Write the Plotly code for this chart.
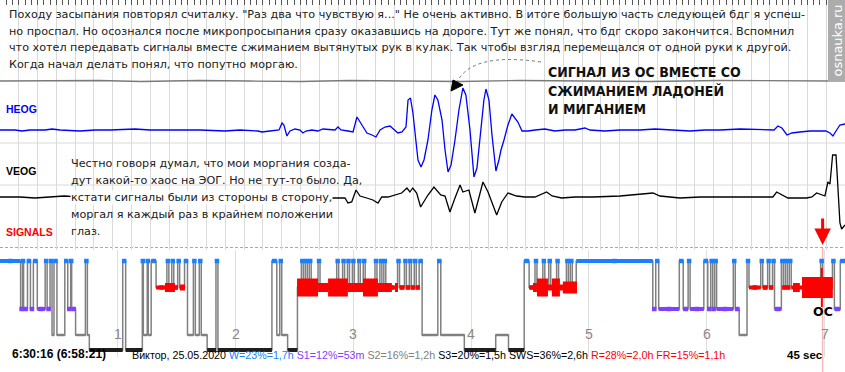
import plotly.graph_objects as go

W, H = 845, 372

# ---------------- 45-second EOG window (seconds / relative amplitude) ----------------
heog_t = [0.00, 0.80, 1.17, 1.60, 2.40, 2.77, 3.20, 4.26, 5.06, 5.86, 7.19, 7.99, 9.32, 10.65,
          11.98, 12.78, 13.74, 13.95, 14.38, 14.86, 15.02, 15.12, 15.28, 15.44, 15.71, 15.98,
          16.13, 16.29, 16.61, 16.93, 17.20, 17.57, 17.84, 18.00, 18.16, 18.53, 18.80, 19.01,
          19.33, 19.54, 19.81, 20.02, 20.24, 20.50, 20.77, 20.98, 21.19, 21.41, 21.62, 21.73,
          21.86, 21.99, 22.26, 22.42, 22.58, 22.79, 23.00, 23.16, 23.32, 23.54, 23.70, 23.86,
          24.02, 24.23, 24.44, 24.65, 24.81, 25.03, 25.24, 25.40, 25.61, 25.77, 25.88, 26.04,
          26.20, 26.41, 26.57, 26.68, 26.84, 27.05, 27.26, 27.42, 27.58, 27.80, 28.12, 28.49,
          29.02, 29.55, 30.09, 30.62, 31.15, 31.42, 32.22, 33.02, 34.08, 34.88, 35.68, 36.74,
          37.54, 38.34, 39.41, 40.47, 41.22, 41.43, 41.64, 41.91, 42.17, 42.60, 43.13, 43.67,
          43.98, 44.20, 44.36, 44.52, 44.73, 45.00]
heog_uv = [0, 0, -1, 0, 0, 1, 0, -1, 0, 0, 1, 0, 0, 0,
           -1, 0, -1, -2, -1, 0, 7, 5, -6, -1, 1, 0,
           -3, -1, 0, -1, 1, 0, 0, 3, 0, -1, -2, 13,
           3, -3, -5, -7, 0, 3, 4, 0, -3, -2, 3, 30,
           32, 17, -30, -37, -30, -10, 20, 35, 30, 10, -20, -42,
           -35, -10, 20, 42, 35, 0, -47, -38, 0, 30, 41, 30,
           -5, -41, -30, -20, -10, 5, 16, 12, 8, -1, -1, 0,
           1, -1, 0, 0, 2, 0, -1, 0, 0, 1, 0, -1,
           0, 0, 1, 0, 0, 4, 2, -5, -3, -2, -1, -1,
           -1, -3, -6, -1, 5, 6]

veog_t = [0.00, 1.07, 1.86, 2.66, 3.41, 4.26, 5.33, 6.92, 8.52, 10.12, 11.72, 13.31, 14.91,
          15.98, 17.04, 18.00, 18.37, 18.53, 18.73, 18.96, 19.17, 19.53, 19.86, 20.13, 20.33,
          20.66, 21.12, 21.39, 21.67, 21.83, 21.98, 22.19, 22.40, 22.63, 22.79, 23.11, 23.47,
          23.70, 23.96, 24.23, 24.50, 24.65, 24.97, 25.29, 25.51, 25.72, 25.99, 26.45, 26.72,
          27.05, 27.51, 27.96, 28.49, 29.11, 29.40, 29.91, 30.62, 31.58, 33.02, 34.77, 35.15,
          35.84, 36.21, 37.28, 38.34, 39.94, 41.16, 41.36, 41.64, 41.96, 42.96, 43.24, 43.49,
          43.93, 44.09, 44.20, 44.34, 44.52, 44.60, 44.73, 44.82, 45.00]
veog_uv = [0, 0, -1, 0, 1, 0, 0, -1, 0, 0, 0, -1, 0,
           0, -1, -1, -1, -6, -5, 7, 1, -1, -3, -6, 0,
           0, 3, 4, 9, 5, 9, 4, -10, -2, 2, 10, 2,
           1, -15, -1, 12, 5, 7, -16, 1, 15, 5, -18, -5,
           4, 1, 0, 0, 5, 1, -1, 0, 0, 1, 4, 1,
           0, -1, 0, 0, 0, 0, 5, 2, -1, -1, 0, 4,
           1, 15, 13, 42, 42, 17, -26, -32, -28]

aux_t = [0.0, 3.2, 5.3, 7.5, 10.6, 13.3, 16.0, 18.6, 21.3, 24.5, 27.7, 30.9, 34.6, 38.3, 42.1, 44.1]
aux_uv = [0, 0, 0.5, -0.5, 0.5, 0, -0.5, 0.5, 0, -0.5, 0.5, 0, -0.5, 0.5, 0, 0]

# ---------------- whole-night hypnogram (minutes from start) ----------------
hyp_start_min = [0, 10.5, 11.5, 12.0, 14.0, 15.5, 17.0, 19.0, 23.0, 24.0, 25.5, 26.5, 27.5, 29.0,
                 33.0, 34.5, 36.0, 36.5, 38.5, 43.5, 44.5, 45.5, 62.5, 64.0, 72.5, 73.0, 75.0,
                 75.5, 77.0, 79.5, 85.0, 86.0, 87.5, 88.5, 90.5, 91.5, 94.0, 95.5, 98.5, 99.5,
                 101.5, 102.5, 105.5, 110.0, 111.0, 138.5, 141.0, 142.5, 143.5, 146.5, 151.5,
                 153.5, 154.5, 155.5, 156.5, 157.5, 158.5, 162.0, 163.0, 171.5, 172.5, 174.5,
                 175.5, 177.0, 178.0, 179.5, 180.5, 182.5, 183.5, 185.0, 186.0, 191.0, 192.0,
                 193.5, 194.5, 195.5, 196.5, 202.5, 203.5, 206.0, 207.0, 208.5, 209.5, 211.0,
                 212.0, 213.5, 215.0, 223.0, 224.5, 236.5, 252.5, 259.0, 267.0, 269.5, 272.5,
                 273.5, 276.5, 277.5, 279.5, 280.5, 283.5, 284.5, 288.5, 289.5, 290.5, 291.5,
                 293.5, 332.5, 334.0, 335.5, 346.0, 348.0, 350.5, 351.5, 358.5, 360.5, 362.0,
                 363.0, 364.0, 365.0, 373.5, 374.5, 376.5, 380.5, 381.5, 387.5, 388.5, 391.0,
                 392.0, 393.5, 394.5, 398.0, 399.0, 400.0, 401.0, 402.0, 403.0, 418.0, 419.0,
                 424.0, 425.0, 428.0]
hyp_stage = ["W", "S1", "W", "S1", "W", "S1", "W", "S1", "W", "S1", "W", "S2", "W", "S2",
             "W", "S1", "W", "S1", "S2", "W", "S2", "S3", "W", "S3", "W", "S2", "W",
             "S2", "W", "R", "W", "R", "W", "R", "W", "R", "W", "S2", "W", "S2",
             "W", "S2", "S3", "W", "S3", "W", "S2", "W", "S2", "S3", "R",
             "W", "R", "W", "R", "W", "R", "W", "R", "W", "R", "W",
             "R", "W", "R", "W", "R", "W", "R", "W", "R", "W", "R",
             "W", "R", "W", "R", "W", "R", "W", "R", "W", "R", "W",
             "R", "W", "S2", "W", "S2", "S3", "S2", "S3", "W", "R", "W",
             "R", "W", "R", "W", "R", "W", "R", "W", "R", "W", "R",
             "W", "S1", "W", "S1", "W", "S1", "W", "S1", "W", "S1", "W",
             "S1", "W", "S1", "W", "S1", "S2", "W", "R", "W", "R", "W",
             "R", "W", "S1", "W", "R", "W", "R", "W", "R", "W", "R",
             "W", "S1", "W"]
hyp_end_min = 430.4

# rapid-eye-movement density blocks inside REM
rem_start_min = [84.0, 91.7, 151.3, 162.0, 167.1, 177.2, 184.9, 192.5, 201.2,
                 271.5, 273.5, 279.1, 281.1, 285.2, 286.7, 403.9, 408.5, 418.1]
rem_end_min = [89.1, 94.2, 162.0, 167.1, 177.2, 184.9, 192.5, 199.6, 202.7,
               273.5, 279.1, 281.1, 285.2, 286.7, 293.9, 407.4, 424.2, 419.1]
rem_density = [2, 1, 4, 2, 4, 2, 4, 2, 2,
               2, 4, 1, 4, 1, 3, 2, 5, 6]

cursor_min = 419.0
hour_ticks_min = [60, 120, 180, 240, 300, 360, 420]
hour_labels = ["1", "2", "3", "4", "5", "6", "7"]

top_text = [
    "Походу засыпания повторял считалку. \"Раз два что чувствую я...\" Не очень активно. В итоге большую часть следующей бдг я успеш-",
    "но проспал. Но осознался после микропросыпания сразу оказавшись на дороге. Тут же понял, что бдг скоро закончится. Вспомнил",
    "что хотел передавать сигналы вместе сжиманием вытянутых рук в кулак. Так чтобы взгляд перемещался от одной руки к другой.",
    "Когда начал делать понял, что попутно моргаю.",
]
mid_text = [
    "Честно говоря думал, что мои моргания созда-",
    "дут какой-то хаос на ЭОГ. Но не тут-то было. Да,",
    "кстати сигналы были из стороны в сторону,",
    "моргал я каждый раз в крайнем положении",
    "глаз.",
]
callout_text = ["СИГНАЛ ИЗ ОС ВМЕСТЕ СО", "СЖИМАНИЕМ ЛАДОНЕЙ", "И МИГАНИЕМ"]
stat_labels = ["W=23%=1,7h", "S1=12%=53m", "S2=16%=1,2h", "S3=20%=1,5h", "SWS=36%=2,6h",
               "R=28%=2,0h", "FR=15%=1,1h"]

# ---------------- styles ----------------
stage_y = {"W": 261, "R": 287.5, "S1": 309, "S2": 335, "S3": 350}
stage_color = {"W": "#1a80ff", "R": "#ff0000", "S1": "#8040ff", "S2": "#808080", "S3": "#1e1e1e"}
stage_width = {"W": 4, "R": 4, "S1": 4, "S2": 2.5, "S3": 4}
stat_colors = ["#1a80ff", "#8040ff", "#808080", "#000000", "#000000", "#ff0000", "#ff0000"]
density_px = {1: 6, 2: 9, 3: 12, 4: 18, 5: 21, 6: 39}


def px(x):
    return x / W


def py(y):
    return 1 - y / H


fig = go.Figure()

# EOG channels
fig.add_trace(go.Scatter(x=aux_t, y=aux_uv, mode="lines", line=dict(color="#7a7a7a", width=1.3),
                         xaxis="x", yaxis="y4", hoverinfo="skip"))
fig.add_trace(go.Scatter(x=heog_t, y=heog_uv, mode="lines", line=dict(color="#0000ff", width=1.3),
                         xaxis="x", yaxis="y", hoverinfo="skip"))
fig.add_trace(go.Scatter(x=veog_t, y=veog_uv, mode="lines", line=dict(color="#000000", width=1.3),
                         xaxis="x", yaxis="y3", hoverinfo="skip"))

# hypnogram step line
ends = hyp_start_min[1:] + [hyp_end_min]
sx = list(hyp_start_min) + [hyp_end_min]
sy = [stage_y[s] for s in hyp_stage] + [stage_y[hyp_stage[-1]]]
fig.add_trace(go.Scatter(x=sx, y=sy, mode="lines", line=dict(color="#808080", width=1.5, shape="hv"),
                         xaxis="x2", yaxis="y2", hoverinfo="skip"))

# stage bars
for st in ["S2", "S3", "S1", "R", "W"]:
    xs, ys, mx, my = [], [], [], []
    for s, e, g in zip(hyp_start_min, ends, hyp_stage):
        if g == st:
            xs += [s, e, None]
            ys += [stage_y[st], stage_y[st], None]
            mx.append((s + e) / 2)
            my.append(stage_y[st])
    fig.add_trace(go.Scatter(x=xs, y=ys, mode="lines",
                             line=dict(color=stage_color[st], width=stage_width[st]),
                             xaxis="x2", yaxis="y2", hoverinfo="skip"))
    if st in ("W", "S1", "R"):
        fig.add_trace(go.Scatter(x=mx, y=my, mode="markers",
                                 marker=dict(symbol="square", size=4.5, color=stage_color[st], line=dict(width=0)),
                                 xaxis="x2", yaxis="y2", hoverinfo="skip"))

# REM density blocks
for lvl in sorted(set(rem_density)):
    xs, ys = [], []
    for s, e, d in zip(rem_start_min, rem_end_min, rem_density):
        if d == lvl:
            xs += [s, e, None]
            ys += [stage_y["R"], stage_y["R"], None]
    fig.add_trace(go.Scatter(x=xs, y=ys, mode="lines", line=dict(color="#ff0000", width=density_px[lvl]),
                             xaxis="x2", yaxis="y2", hoverinfo="skip"))

shapes = []
# horizontal guide lines in signal area
for yy in (143, 185):
    shapes.append(dict(type="line", xref="paper", yref="paper", x0=0, x1=1, y0=py(yy), y1=py(yy),
                       line=dict(color="#dadada", width=1), layer="below"))
shapes.append(dict(type="line", xref="paper", yref="paper", x0=0, x1=1, y0=py(247.5), y1=py(247.5),
                   line=dict(color="#a8a8a8", width=1, dash="3px,2px"), layer="below"))
# cursor line in hypnogram
shapes.append(dict(type="line", xref="x2", yref="paper", x0=cursor_min, x1=cursor_min, y0=0, y1=py(248),
                   line=dict(color="#f6b8b8", width=1.5), layer="below"))
# dotted callout curve + head
shapes.append(dict(type="path", xref="paper", yref="paper",
                   path=f"M {px(541)} {py(62)} Q {px(472)} {py(52)} {px(457)} {py(82)}",
                   line=dict(color="#707070", width=1, dash="dot")))
shapes.append(dict(type="path", xref="paper", yref="paper",
                   path=f"M {px(451)} {py(91)} L {px(453)} {py(80)} L {px(463)} {py(85)} Z",
                   fillcolor="#000000", line=dict(color="#000000", width=1)))

ann = []
TXT = "#202020"
for i, t in enumerate(top_text):
    ann.append(dict(text=t, x=px(7), y=py(15 + i * 16.4), xref="paper", yref="paper", xanchor="left",
                    yanchor="middle", showarrow=False, font=dict(family="DejaVu Sans", size=11.2, color=TXT)))
for i, t in enumerate(mid_text):
    ann.append(dict(text=t, x=px(70), y=py(163 + i * 17), xref="paper", yref="paper", xanchor="left",
                    yanchor="middle", showarrow=False, font=dict(family="DejaVu Sans", size=11.2, color=TXT),
                    bgcolor="white" if i == 2 else None, borderpad=0))
for i, t in enumerate(callout_text):
    ann.append(dict(text=t, x=px(546), y=py(72 + i * 18.5), xref="paper", yref="paper", xanchor="left",
                    yanchor="middle", showarrow=False,
                    font=dict(family="Liberation Sans Narrow, DejaVu Sans Condensed, Liberation Sans", size=14,
                              color="#111111", weight="bold")))
# channel labels
for lab, yy, col in (("HEOG", 109, "#0000ff"), ("VEOG", 171, "#000000"), ("SIGNALS", 232, "#ff0000")):
    ann.append(dict(text=lab, x=px(4), y=py(yy), xref="paper", yref="paper", xanchor="left", yanchor="middle",
                    showarrow=False, font=dict(family="Liberation Sans", size=10.5, color=col, weight="bold")))
# watermark (grey tab with white vertical text)
ann.append(dict(text="osnauka.ru", x=px(836.5), y=py(41), xref="paper", yref="paper", textangle=-90,
                xanchor="center", yanchor="middle", width=82, height=17, bgcolor="#acacac", borderpad=0,
                showarrow=False, font=dict(family="DejaVu Sans", size=13, color="#ffffff")))
# red event arrow
ann.append(dict(text="", x=cursor_min, y=py(245), xref="x2", yref="paper", ax=0, ay=-28, showarrow=True,
                arrowhead=2, arrowsize=1.1, arrowwidth=3, arrowcolor="#ff0000"))
ann.append(dict(text="ОС", x=cursor_min, y=py(321), xref="x2", yref="paper", showarrow=False,
                font=dict(family="DejaVu Sans", size=12.5, color="#000000", weight="bold")))
# hour labels
for hv, hl in zip(hour_ticks_min, hour_labels):
    ann.append(dict(text=hl, x=hv, y=py(344), xref="x2", yref="paper", showarrow=False,
                    font=dict(family="Liberation Sans", size=14, color="#888888")))
# status line
ann.append(dict(text="6:30:16 (6:58:21)", x=px(10), y=py(363), xref="paper", yref="paper", xanchor="left",
                showarrow=False, font=dict(family="Liberation Sans", size=12, color="#000000", weight="bold")))
status = "Виктор, 25.05.2020 " + " ".join(
    f"<span style='color:{c}'>{s}</span>" for s, c in zip(stat_labels, stat_colors))
ann.append(dict(text=status, x=px(130), y=py(363), xref="paper", yref="paper", xanchor="left",
                showarrow=False, font=dict(family="Liberation Sans", size=10.7, color="#000000")))
ann.append(dict(text="45 sec", x=px(785), y=py(363), xref="paper", yref="paper", xanchor="left",
                showarrow=False, font=dict(family="Liberation Sans", size=11.5, color="#000000", weight="bold")))

sig_dom = [py(250), 1]
fig.update_layout(
    width=W, height=H, margin=dict(l=0, r=0, t=0, b=0), paper_bgcolor="white", plot_bgcolor="white",
    showlegend=False,
    xaxis=dict(domain=[0, 1], range=[0, 45], anchor="y", side="top", showgrid=True, gridcolor="#dadada",
               gridwidth=1, dtick=1, tick0=0, ticks="inside", ticklen=5, tickcolor="#555555",
               showticklabels=False, zeroline=False, showline=False,
               minor=dict(dtick=1 / 3, tick0=0, ticks="inside", ticklen=5, tickcolor="#555555", showgrid=False)),
    yaxis=dict(domain=sig_dom, range=[-120, 130], visible=False, anchor="x"),
    yaxis3=dict(overlaying="y", range=[-53, 197], visible=False, anchor="x"),
    yaxis4=dict(overlaying="y", range=[-169, 81], visible=False, anchor="x"),
    xaxis2=dict(domain=[0, 1], range=[0, hyp_end_min], anchor="y2", showgrid=True, gridcolor="#dedede",
                tickvals=hour_ticks_min, showticklabels=False, ticks="", zeroline=False, showline=False),
    yaxis2=dict(domain=[py(357), py(250)], range=[357, 250], visible=False, anchor="x2"),
    shapes=shapes, annotations=ann,
)

fig.write_html("out.html", config={"displayModeBar": False, "staticPlot": True},
               post_script="document.body.style.margin='0';document.body.style.overflow='hidden';")
